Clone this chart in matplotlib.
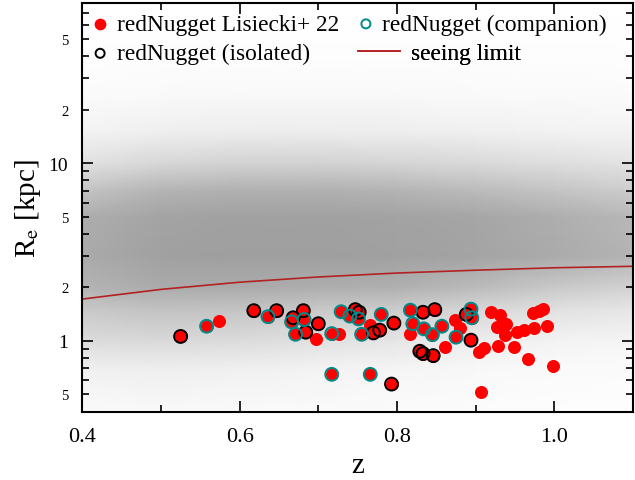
import numpy as np
import matplotlib
matplotlib.use("Agg")
import matplotlib.pyplot as plt
from matplotlib.colors import LinearSegmentedColormap
from matplotlib.ticker import FixedLocator, FuncFormatter

plt.rcParams["font.family"] = ["Liberation Serif", "DejaVu Serif"]
plt.rcParams["mathtext.fontset"] = "stix"

# --- redNugget samples (z, Re in kpc) ---
red_z = [0.574, 0.697, 0.726, 0.766, 0.816, 0.861, 0.874, 0.880, 0.904, 0.910,
         0.920, 0.931, 0.927, 0.938, 0.937, 0.928, 0.949, 0.952, 0.962, 0.974,
         0.990, 0.973, 0.980, 0.986, 0.967, 0.998, 0.907]
red_re = [1.30, 1.03, 1.09, 1.23, 1.10, 0.925, 1.32, 1.19, 0.868, 0.917,
          1.46, 1.40, 1.20, 1.25, 1.075, 0.941, 0.919, 1.12, 1.15, 1.18,
          1.21, 1.43, 1.48, 1.51, 0.796, 0.727, 0.517]

iso_z = [0.525, 0.618, 0.647, 0.668, 0.681, 0.700, 0.684, 0.747, 0.752, 0.796,
         0.770, 0.778, 0.833, 0.848, 0.829, 0.833, 0.846, 0.888, 0.894, 0.793]
iso_re = [1.06, 1.48, 1.48, 1.35, 1.48, 1.25, 1.12, 1.50, 1.45, 1.26,
          1.11, 1.15, 1.45, 1.50, 0.875, 0.849, 0.827, 1.41, 1.01, 0.572]

comp_z = [0.558, 0.636, 0.666, 0.682, 0.671, 0.717, 0.729, 0.740, 0.751, 0.755,
          0.780, 0.817, 0.820, 0.834, 0.845, 0.857, 0.875, 0.894, 0.895, 0.717,
          0.766]
comp_re = [1.21, 1.37, 1.28, 1.32, 1.09, 1.10, 1.46, 1.38, 1.33, 1.09,
           1.41, 1.49, 1.25, 1.17, 1.085, 1.21, 1.05, 1.51, 1.35, 0.649,
           0.649]

# seeing limit in kpc
seeing_z = [0.4, 0.5, 0.6, 0.7, 0.8, 0.9, 1.0, 1.1]
seeing_re = [1.72, 1.95, 2.14, 2.29, 2.41, 2.50, 2.58, 2.63]

# parent sample, shown as a coverage map (0 = empty, 1 = fully covered)
cloud_z = [0.4, 0.5, 0.6, 0.7, 0.8, 0.9, 1.0, 1.1]
cloud_re = [0.4, 0.7, 1.0, 1.5, 2.0, 3.0, 5.0, 7.0, 10.0, 15.0, 25.0, 40.0, 80.0]
cloud_cov = [
    [0.05, 0.06, 0.05, 0.05, 0.04, 0.03, 0.02, 0.02],
    [0.15, 0.17, 0.15, 0.12, 0.10, 0.07, 0.05, 0.04],
    [0.35, 0.38, 0.35, 0.30, 0.25, 0.18, 0.12, 0.10],
    [0.55, 0.62, 0.60, 0.55, 0.50, 0.40, 0.30, 0.25],
    [0.75, 0.85, 0.85, 0.82, 0.80, 0.68, 0.55, 0.45],
    [0.85, 0.95, 0.97, 0.97, 0.95, 0.92, 0.85, 0.75],
    [0.82, 0.92, 0.95, 0.95, 0.93, 0.90, 0.82, 0.72],
    [0.60, 0.75, 0.80, 0.80, 0.75, 0.68, 0.60, 0.50],
    [0.30, 0.40, 0.45, 0.45, 0.42, 0.38, 0.33, 0.28],
    [0.12, 0.16, 0.18, 0.18, 0.17, 0.15, 0.13, 0.12],
    [0.04, 0.05, 0.06, 0.06, 0.06, 0.05, 0.05, 0.04],
    [0.01, 0.02, 0.02, 0.02, 0.02, 0.02, 0.02, 0.01],
    [0.00, 0.00, 0.00, 0.00, 0.00, 0.00, 0.00, 0.00],
]

fig = plt.figure(figsize=(6.35, 4.81), dpi=100)
ax = fig.add_axes([0.1295, 0.142, 0.8675, 0.8505])
ax.set_yscale("log")

cmap = LinearSegmentedColormap.from_list("cloud", ["#ffffff", "#9c9c9c"])
zz, rr = np.meshgrid(cloud_z, cloud_re)
ax.pcolormesh(zz, rr, np.array(cloud_cov), cmap=cmap, vmin=0, vmax=1,
              shading="gouraud", zorder=0, rasterized=True)

all_z = red_z + iso_z + comp_z
all_re = red_re + iso_re + comp_re
h_red = ax.scatter(all_z, all_re, s=88, color="#ff0000", lw=0, zorder=3)
h_iso = ax.scatter(iso_z, iso_re, s=86, facecolor="none", edgecolor="black",
                   lw=1.4, zorder=4)
h_comp = ax.scatter(comp_z, comp_re, s=86, facecolor="none",
                    edgecolor="#008b8b", lw=1.4, zorder=5)
h_see, = ax.plot(seeing_z, seeing_re, color="#b22222", lw=1.2, zorder=2)

ax.set_xlim(0.4, 1.1)
ax.set_ylim(0.4, 80)

ax.set_xticks([0.4, 0.6, 0.8, 1.0])
ax.set_xticklabels(["0.4", "0.6", "0.8", "1.0"])
ax.set_xticks([0.5, 0.7, 0.9, 1.1], minor=True)

major_y = [1, 10]
minor_y = [0.4, 0.5, 0.6, 0.7, 0.8, 0.9, 2, 3, 4, 5, 6, 7, 8, 9,
           20, 30, 40, 50, 60, 70, 80]
ax.yaxis.set_major_locator(FixedLocator(major_y))
ax.yaxis.set_minor_locator(FixedLocator(minor_y))
ax.yaxis.set_major_formatter(FuncFormatter(lambda v, p: "%d" % v))


def minor_label(v, pos):
    lead = int(round(v / 10 ** np.floor(np.log10(v) + 1e-9)))
    return str(lead) if lead in (2, 5) else ""


ax.yaxis.set_minor_formatter(FuncFormatter(minor_label))

ax.tick_params(which="both", direction="in", top=True, right=True, width=1.2)
ax.tick_params(which="major", length=8)
ax.tick_params(axis="x", which="major", pad=11, labelsize=16)
ax.tick_params(axis="y", which="major", pad=10, labelsize=14)
ax.tick_params(axis="x", which="minor", length=5, labelbottom=False)
ax.tick_params(axis="y", which="minor", length=5, labelsize=10.5, pad=10)
for sp in ax.spines.values():
    sp.set_linewidth(1.5)

ax.set_xlabel("z", fontsize=21, labelpad=4)
ax.set_ylabel(r"R$_\mathrm{e}$ [kpc]", fontsize=21, labelpad=4)


# one legend per entry so each handle can have its own width
def add_key(handle, label, x, y, hlen, pad, mscale):
    leg = ax.legend([handle], [label], loc="upper left",
                    bbox_to_anchor=(x, y), frameon=False, fontsize=16.8,
                    scatterpoints=1, markerscale=mscale, handlelength=hlen,
                    handletextpad=pad, borderpad=0, borderaxespad=0)
    ax.add_artist(leg)


add_key(h_red, "redNugget Lisiecki+ 22", 0.0155, 0.973, 0.8, 0.33, 0.9)
add_key(h_iso, "redNugget (isolated)", 0.0155, 0.901, 0.8, 0.33, 0.7)
add_key(h_comp, "redNugget (companion)", 0.498, 0.973, 0.8, 0.3, 0.7)
add_key(h_see, "seeing limit", 0.5005, 0.901, 1.8, 0.47, 1.0)

fig.savefig("out.png", dpi=100)
